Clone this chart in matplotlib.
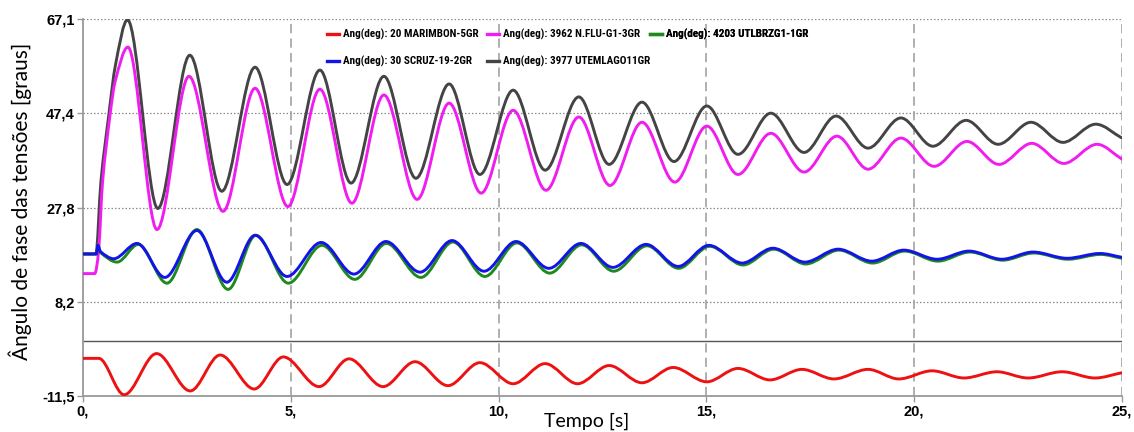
import matplotlib
matplotlib.use("Agg")
import matplotlib.pyplot as plt
from matplotlib.path import Path
from matplotlib.patches import PathPatch
from matplotlib.lines import Line2D
from matplotlib import font_manager as fm
import numpy as np

# ---------------- data ----------------
labels = ["Ang(deg): 20 MARIMBON-5GR", "Ang(deg): 3962 N.FLU-G1-3GR",
          "Ang(deg): 4203 UTLBRZG1-1GR", "Ang(deg): 30 SCRUZ-19-2GR",
          "Ang(deg): 3977 UTEMLAGO11GR"]

red_t = [0, 0.38, 0.99, 1.77, 2.58, 3.30, 4.12, 4.82, 5.68, 6.40, 7.22, 7.99, 8.78, 9.55,
         10.35, 11.12, 11.90, 12.66, 13.45, 14.20, 15.01, 15.76, 16.53, 17.30, 18.07, 18.89,
         19.63, 20.43, 21.20, 21.99, 22.74, 23.56, 24.35, 25.0]
red_v = [-3.7, -3.7, -11.3, -2.7, -10.5, -3.0, -10.1, -3.4, -9.6, -3.8, -9.6, -4.4, -9.4, -4.6,
         -9.0, -4.8, -9.0, -5.2, -8.8, -5.6, -8.6, -5.8, -8.2, -6.0, -8.0, -6.0,
         -8.0, -6.3, -7.8, -6.5, -7.8, -6.5, -7.8, -6.7]

magenta_t = [0, 0.28, 0.38, 0.47, 0.65, 0.77, 1.08, 1.78, 2.55, 3.37, 4.14, 4.93, 5.70, 6.47,
             7.24, 8.04, 8.81, 9.58, 10.35, 11.14, 11.93, 12.68, 13.45, 14.24, 15.01, 15.76,
             16.55, 17.35, 18.14, 18.89, 19.68, 20.48, 21.27, 22.04, 22.83, 23.60, 24.40, 25.0]
magenta_v = [14.0, 14.0, 19.3, 33.1, 47.1, 54.0, 61.3, 23.2, 55.2, 27.0, 52.7, 28.0, 52.5, 28.7,
             51.3, 29.5, 49.6, 30.8, 48.1, 31.4, 46.7, 32.4, 45.6, 33.1, 44.8, 34.7,
             43.3, 35.2, 42.7, 35.8, 42.3, 36.4, 41.6, 36.8, 41.2, 37.0, 41.0, 37.9]

green_t = [0, 0.32, 0.36, 0.42, 0.82, 1.33, 2.02, 2.74, 3.49, 4.16, 4.94, 5.75, 6.54, 7.30,
           8.13, 8.90, 9.67, 10.44, 11.23, 12.00, 12.77, 13.57, 14.33, 15.08, 15.88, 16.62,
           17.39, 18.19, 19.00, 19.77, 20.57, 21.34, 22.13, 22.88, 23.70, 24.49, 25.0]
green_v = [18.1, 18.1, 19.6, 18.4, 16.4, 20.1, 12.0, 23.2, 10.7, 22.0, 12.0, 19.9, 12.8, 20.3,
           13.2, 20.6, 13.4, 20.4, 14.1, 20.0, 14.5, 19.8, 15.1, 19.7, 15.8, 19.1,
           16.0, 18.9, 16.2, 18.7, 16.6, 18.5, 16.8, 18.3, 17.0, 18.0, 17.2]

blue_t = [0, 0.32, 0.36, 0.42, 0.74, 1.30, 1.97, 2.74, 3.46, 4.14, 4.91, 5.73, 6.52, 7.29,
          8.11, 8.88, 9.65, 10.42, 11.21, 11.98, 12.75, 13.55, 14.32, 15.06, 15.86, 16.60,
          17.37, 18.17, 18.98, 19.75, 20.55, 21.32, 22.11, 22.86, 23.68, 24.47, 25.0]
blue_v = [18.1, 18.1, 19.9, 18.6, 17.1, 20.3, 13.2, 23.0, 12.2, 22.0, 13.4, 20.5, 13.9, 20.7,
          14.3, 20.9, 14.5, 20.7, 15.1, 20.3, 15.3, 20.1, 15.5, 19.9, 16.2, 19.3,
          16.4, 19.1, 16.6, 18.9, 17.0, 18.7, 17.0, 18.5, 17.2, 18.2, 17.4]

gray_t = [0, 0.31, 0.43, 0.62, 0.78, 1.07, 1.80, 2.57, 3.34, 4.14, 4.91, 5.70, 6.45, 7.24,
          8.01, 8.81, 9.55, 10.35, 11.12, 11.93, 12.66, 13.45, 14.22, 15.01, 15.76, 16.55,
          17.35, 18.12, 18.89, 19.68, 20.45, 21.25, 22.02, 22.81, 23.58, 24.37, 25.0]
gray_v = [18.1, 18.1, 33.1, 47.1, 57.5, 67.0, 27.6, 59.6, 31.2, 57.1, 32.6, 56.5, 32.9, 55.2,
          33.9, 53.6, 34.7, 52.3, 35.6, 50.9, 36.8, 49.8, 37.4, 49.0, 38.9, 47.5,
          39.3, 46.9, 40.2, 46.5, 40.6, 46.0, 41.0, 45.6, 41.4, 45.2, 42.3]

y_ticks = [-11.5, 8.15, 27.8, 47.45, 67.1]
y_ticklabels = ["-11,5", "8,2", "27,8", "47,4", "67,1"]
x_ticks = [0, 5, 10, 15, 20, 25]
x_ticklabels = ["0,", "5,", "10,", "15,", "20,", "25,"]

colors = {"red": "#ee1111", "magenta": "#f01cf0", "green": "#1e8a1e",
          "blue": "#1414e6", "gray": "#444444"}

# ---------------- fonts ----------------
fonts = fm.fontManager.ttflist
names = {f.name for f in fonts}
if "Liberation Sans Narrow" in names:
    leg_prop = {"family": "Liberation Sans Narrow", "weight": "bold", "size": 8.0}
elif "Roboto Condensed" in names:
    leg_prop = {"family": "Roboto Condensed", "weight": "bold", "size": 8.0}
elif "Roboto" in names:
    leg_prop = {"family": "Roboto", "weight": "bold", "size": 7.0}
else:
    leg_prop = {"family": "Liberation Sans", "weight": "bold", "size": 7.0}
lab_family = "Lato" if "Lato" in names else "DejaVu Sans"


def smooth_path(t, v):
    """Cubic Hermite (Bezier) path through the read knots."""
    t = np.asarray(t, float)
    v = np.asarray(v, float)
    n = len(t)
    m = np.zeros(n)
    for i in range(n):
        if i == 0:
            m[i] = (v[1] - v[0]) / (t[1] - t[0])
        elif i == n - 1:
            m[i] = (v[-1] - v[-2]) / (t[-1] - t[-2])
        else:
            d0 = v[i] - v[i - 1]
            d1 = v[i + 1] - v[i]
            m[i] = 0.0 if d0 * d1 <= 0 else (v[i + 1] - v[i - 1]) / (t[i + 1] - t[i - 1])
    verts = [(t[0], v[0])]
    codes = [Path.MOVETO]
    for i in range(n - 1):
        h = (t[i + 1] - t[i]) / 3.0
        verts += [(t[i] + h, v[i] + h * m[i]),
                  (t[i + 1] - h, v[i + 1] - h * m[i + 1]),
                  (t[i + 1], v[i + 1])]
        codes += [Path.CURVE4] * 3
    return Path(verts, codes)


fig = plt.figure(figsize=(11.34, 4.32), dpi=100)
ax = fig.add_axes([0.0732, 0.0840, 0.9162, 0.8713])
ax.set_xlim(0, 25)
ax.set_ylim(-11.5, 67.1)

# grid
for y in y_ticks[1:]:
    ax.axhline(y, color="#8a8a8a", lw=0.9, ls=(0, (1.2, 1.6)), zorder=0.5)
for x in x_ticks[1:]:
    ax.axvline(x, color="#9a9a9a", lw=1.1, ls=(0, (6, 3.5)), zorder=0.5)
ax.axhline(0, color="#555555", lw=1.0, zorder=0.8)

series = [("gray", gray_t, gray_v), ("magenta", magenta_t, magenta_v),
          ("green", green_t, green_v), ("blue", blue_t, blue_v),
          ("red", red_t, red_v)]
for z, (c, t, v) in enumerate(series):
    ax.add_patch(PathPatch(smooth_path(t, v), fill=False, edgecolor=colors[c],
                           lw=2.1, zorder=2 + z, capstyle="round", joinstyle="round"))

# spines / ticks
for s in ("top", "right"):
    ax.spines[s].set_visible(False)
for s in ("left", "bottom"):
    ax.spines[s].set_color("#999999")
    ax.spines[s].set_linewidth(1.3)
ax.set_yticks(y_ticks)
ax.set_yticklabels(y_ticklabels, fontweight="bold", fontsize=10.5, family="Liberation Sans")
ax.set_xticks(x_ticks)
ax.set_xticklabels(x_ticklabels, fontweight="bold", fontsize=10.5, family="Liberation Sans")
ax.tick_params(axis="both", direction="out", length=4, width=1, color="#999999", pad=2)

ax.set_ylabel("Ângulo de fase das tensões [graus]", fontsize=15, family=lab_family)
ax.yaxis.set_label_coords(-0.049, 0.515)
ax.set_xlabel("Tempo [s]", fontsize=14, family=lab_family)
ax.xaxis.set_label_coords(0.485, -0.045)

# legend: three columns placed like the reference
h = {c: Line2D([], [], color=colors[c], lw=2.4) for c in colors}
cols = [([h["red"], h["blue"]], [labels[0], labels[3]], 0.2348),
        ([h["magenta"], h["gray"]], [labels[1], labels[4]], 0.3888),
        ([h["green"]], [labels[2]], 0.5457)]
for hs, ls, x0 in cols:
    lg = ax.legend(hs, ls, loc="upper left", bbox_to_anchor=(x0, 0.974), frameon=False,
                   borderpad=0, borderaxespad=0, handlelength=1.1, handletextpad=0.3,
                   labelspacing=1.4, prop=leg_prop)
    ax.add_artist(lg)

fig.savefig("out.png", dpi=100)
